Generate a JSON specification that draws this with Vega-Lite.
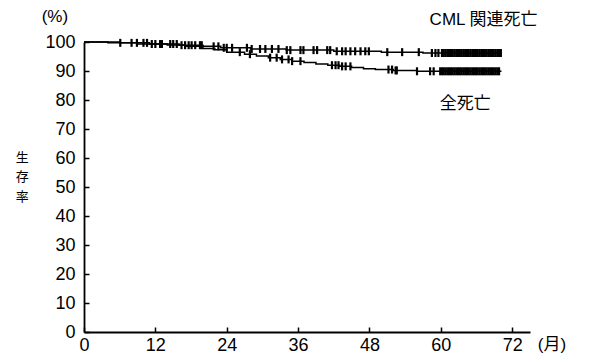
{
  "$schema": "https://vega.github.io/schema/vega-lite/v6.json",
  "width": 446,
  "height": 290,
  "autosize": {"type": "none"},
  "padding": {"left": 84, "top": 42, "right": 76, "bottom": 30},
  "background": "white",
  "config": {"view": {"stroke": null}, "font": "Liberation Sans"},
  "datasets": {
    "curve": [
      {"series": "cml", "month": 0, "surv": 100},
      {"series": "cml", "month": 6, "surv": 99.7},
      {"series": "cml", "month": 11, "surv": 99.3},
      {"series": "cml", "month": 16, "surv": 98.9},
      {"series": "cml", "month": 20, "surv": 98.5},
      {"series": "cml", "month": 23, "surv": 98},
      {"series": "cml", "month": 28, "surv": 97.6},
      {"series": "cml", "month": 34, "surv": 97.2},
      {"series": "cml", "month": 42, "surv": 96.8},
      {"series": "cml", "month": 50, "surv": 96.5},
      {"series": "cml", "month": 57, "surv": 96.2},
      {"series": "cml", "month": 70.2, "surv": 96.2},
      {"series": "all", "month": 0, "surv": 100},
      {"series": "all", "month": 4, "surv": 99.7},
      {"series": "all", "month": 9, "surv": 99.3},
      {"series": "all", "month": 14, "surv": 99},
      {"series": "all", "month": 17, "surv": 98.5},
      {"series": "all", "month": 20, "surv": 97.8},
      {"series": "all", "month": 22, "surv": 97.3},
      {"series": "all", "month": 24, "surv": 96.5},
      {"series": "all", "month": 27, "surv": 95.8},
      {"series": "all", "month": 29, "surv": 95.2},
      {"series": "all", "month": 31, "surv": 94.6},
      {"series": "all", "month": 33, "surv": 94},
      {"series": "all", "month": 35, "surv": 93.4},
      {"series": "all", "month": 37, "surv": 92.9},
      {"series": "all", "month": 39, "surv": 92.4},
      {"series": "all", "month": 41, "surv": 92},
      {"series": "all", "month": 43, "surv": 91.6},
      {"series": "all", "month": 45, "surv": 91.2},
      {"series": "all", "month": 47, "surv": 90.8},
      {"series": "all", "month": 49, "surv": 90.5},
      {"series": "all", "month": 52, "surv": 90.2},
      {"series": "all", "month": 56, "surv": 89.9},
      {"series": "all", "month": 70.2, "surv": 89.9}
    ],
    "censor": [
      {"series": "cml", "month": 6.1, "surv": 99.7},
      {"series": "cml", "month": 8.0, "surv": 99.7},
      {"series": "cml", "month": 8.9, "surv": 99.7},
      {"series": "cml", "month": 10.0, "surv": 99.7},
      {"series": "cml", "month": 10.6, "surv": 99.7},
      {"series": "cml", "month": 11.4, "surv": 99.3},
      {"series": "cml", "month": 12.0, "surv": 99.3},
      {"series": "cml", "month": 12.8, "surv": 99.3},
      {"series": "cml", "month": 13.1, "surv": 99.3},
      {"series": "cml", "month": 14.5, "surv": 99.3},
      {"series": "cml", "month": 15.0, "surv": 99.3},
      {"series": "cml", "month": 15.6, "surv": 99.3},
      {"series": "cml", "month": 16.4, "surv": 98.9},
      {"series": "cml", "month": 17.0, "surv": 98.9},
      {"series": "cml", "month": 17.6, "surv": 98.9},
      {"series": "cml", "month": 18.1, "surv": 98.9},
      {"series": "cml", "month": 18.7, "surv": 98.9},
      {"series": "cml", "month": 19.5, "surv": 98.9},
      {"series": "cml", "month": 19.8, "surv": 98.9},
      {"series": "cml", "month": 21.8, "surv": 98.5},
      {"series": "cml", "month": 22.6, "surv": 98.5},
      {"series": "cml", "month": 23.5, "surv": 98},
      {"series": "cml", "month": 24.0, "surv": 98},
      {"series": "cml", "month": 24.9, "surv": 98},
      {"series": "cml", "month": 27.4, "surv": 98},
      {"series": "cml", "month": 28.2, "surv": 97.6},
      {"series": "cml", "month": 29.6, "surv": 97.6},
      {"series": "cml", "month": 30.5, "surv": 97.6},
      {"series": "cml", "month": 31.6, "surv": 97.6},
      {"series": "cml", "month": 32.7, "surv": 97.6},
      {"series": "cml", "month": 34.1, "surv": 97.2},
      {"series": "cml", "month": 34.7, "surv": 97.2},
      {"series": "cml", "month": 36.4, "surv": 97.2},
      {"series": "cml", "month": 36.9, "surv": 97.2},
      {"series": "cml", "month": 38.6, "surv": 97.2},
      {"series": "cml", "month": 39.2, "surv": 97.2},
      {"series": "cml", "month": 40.9, "surv": 97.2},
      {"series": "cml", "month": 41.4, "surv": 97.2},
      {"series": "cml", "month": 42.5, "surv": 96.8},
      {"series": "cml", "month": 43.4, "surv": 96.8},
      {"series": "cml", "month": 44.0, "surv": 96.8},
      {"series": "cml", "month": 44.8, "surv": 96.8},
      {"series": "cml", "month": 45.6, "surv": 96.8},
      {"series": "cml", "month": 46.5, "surv": 96.8},
      {"series": "cml", "month": 47.3, "surv": 96.8},
      {"series": "cml", "month": 47.9, "surv": 96.8},
      {"series": "cml", "month": 51.0, "surv": 96.5},
      {"series": "cml", "month": 53.5, "surv": 96.5},
      {"series": "cml", "month": 56.3, "surv": 96.5},
      {"series": "cml", "month": 58.5, "surv": 96.2},
      {"series": "cml", "month": 59.1, "surv": 96.2},
      {"series": "cml", "month": 59.6, "surv": 96.2},
      {"series": "cml", "month": 60.2, "surv": 96.2},
      {"series": "cml", "month": 60.5, "surv": 96.2},
      {"series": "cml", "month": 60.8, "surv": 96.2},
      {"series": "cml", "month": 61.1, "surv": 96.2},
      {"series": "cml", "month": 61.4, "surv": 96.2},
      {"series": "cml", "month": 61.7, "surv": 96.2},
      {"series": "cml", "month": 62.0, "surv": 96.2},
      {"series": "cml", "month": 62.3, "surv": 96.2},
      {"series": "cml", "month": 62.6, "surv": 96.2},
      {"series": "cml", "month": 62.9, "surv": 96.2},
      {"series": "cml", "month": 63.2, "surv": 96.2},
      {"series": "cml", "month": 63.5, "surv": 96.2},
      {"series": "cml", "month": 63.8, "surv": 96.2},
      {"series": "cml", "month": 64.1, "surv": 96.2},
      {"series": "cml", "month": 64.4, "surv": 96.2},
      {"series": "cml", "month": 64.7, "surv": 96.2},
      {"series": "cml", "month": 65.0, "surv": 96.2},
      {"series": "cml", "month": 65.3, "surv": 96.2},
      {"series": "cml", "month": 65.6, "surv": 96.2},
      {"series": "cml", "month": 65.9, "surv": 96.2},
      {"series": "cml", "month": 66.2, "surv": 96.2},
      {"series": "cml", "month": 66.5, "surv": 96.2},
      {"series": "cml", "month": 66.8, "surv": 96.2},
      {"series": "cml", "month": 67.1, "surv": 96.2},
      {"series": "cml", "month": 67.4, "surv": 96.2},
      {"series": "cml", "month": 67.7, "surv": 96.2},
      {"series": "cml", "month": 68.0, "surv": 96.2},
      {"series": "cml", "month": 68.3, "surv": 96.2},
      {"series": "cml", "month": 68.6, "surv": 96.2},
      {"series": "cml", "month": 68.9, "surv": 96.2},
      {"series": "cml", "month": 69.2, "surv": 96.2},
      {"series": "cml", "month": 69.5, "surv": 96.2},
      {"series": "cml", "month": 69.8, "surv": 96.2},
      {"series": "cml", "month": 70.1, "surv": 96.2},
      {"series": "all", "month": 26.2, "surv": 96.5},
      {"series": "all", "month": 27.9, "surv": 95.8},
      {"series": "all", "month": 31.3, "surv": 94.6},
      {"series": "all", "month": 32.4, "surv": 94.6},
      {"series": "all", "month": 33.3, "surv": 94},
      {"series": "all", "month": 34.4, "surv": 94},
      {"series": "all", "month": 35.0, "surv": 93.4},
      {"series": "all", "month": 36.4, "surv": 93.4},
      {"series": "all", "month": 41.7, "surv": 92},
      {"series": "all", "month": 42.3, "surv": 92},
      {"series": "all", "month": 42.8, "surv": 92},
      {"series": "all", "month": 43.4, "surv": 91.6},
      {"series": "all", "month": 44.0, "surv": 91.6},
      {"series": "all", "month": 44.8, "surv": 91.6},
      {"series": "all", "month": 51.2, "surv": 90.5},
      {"series": "all", "month": 51.8, "surv": 90.5},
      {"series": "all", "month": 52.4, "surv": 90.2},
      {"series": "all", "month": 52.6, "surv": 90.2},
      {"series": "all", "month": 56.0, "surv": 89.9},
      {"series": "all", "month": 58.2, "surv": 89.9},
      {"series": "all", "month": 58.8, "surv": 89.9},
      {"series": "all", "month": 59.9, "surv": 89.9},
      {"series": "all", "month": 60.2, "surv": 89.9},
      {"series": "all", "month": 60.5, "surv": 89.9},
      {"series": "all", "month": 60.8, "surv": 89.9},
      {"series": "all", "month": 61.1, "surv": 89.9},
      {"series": "all", "month": 61.4, "surv": 89.9},
      {"series": "all", "month": 61.7, "surv": 89.9},
      {"series": "all", "month": 62.0, "surv": 89.9},
      {"series": "all", "month": 62.3, "surv": 89.9},
      {"series": "all", "month": 62.6, "surv": 89.9},
      {"series": "all", "month": 62.9, "surv": 89.9},
      {"series": "all", "month": 63.2, "surv": 89.9},
      {"series": "all", "month": 63.5, "surv": 89.9},
      {"series": "all", "month": 63.8, "surv": 89.9},
      {"series": "all", "month": 64.1, "surv": 89.9},
      {"series": "all", "month": 64.4, "surv": 89.9},
      {"series": "all", "month": 64.7, "surv": 89.9},
      {"series": "all", "month": 65.0, "surv": 89.9},
      {"series": "all", "month": 65.3, "surv": 89.9},
      {"series": "all", "month": 65.6, "surv": 89.9},
      {"series": "all", "month": 65.9, "surv": 89.9},
      {"series": "all", "month": 66.2, "surv": 89.9},
      {"series": "all", "month": 66.5, "surv": 89.9},
      {"series": "all", "month": 66.8, "surv": 89.9},
      {"series": "all", "month": 67.1, "surv": 89.9},
      {"series": "all", "month": 67.4, "surv": 89.9},
      {"series": "all", "month": 67.7, "surv": 89.9},
      {"series": "all", "month": 68.0, "surv": 89.9},
      {"series": "all", "month": 68.3, "surv": 89.9},
      {"series": "all", "month": 68.6, "surv": 89.9},
      {"series": "all", "month": 68.9, "surv": 89.9},
      {"series": "all", "month": 69.2, "surv": 89.9},
      {"series": "all", "month": 69.5, "surv": 89.9},
      {"series": "all", "month": 69.8, "surv": 89.9}
    ],
    "labels": [
      {"label": "CML 関連死亡", "month": 67.2, "surv": 107.5},
      {"label": "全死亡", "month": 64.1, "surv": 78.5},
      {"label": "(%)", "month": -4.9, "surv": 108.5},
      {"label": "(月)", "month": 78.7, "surv": -4.6}
    ],
    "ytitle": [
      {"label": "生", "month": -10.4, "surv": 59.9},
      {"label": "存", "month": -10.4, "surv": 53.3},
      {"label": "率", "month": -10.4, "surv": 46.7}
    ]
  },
  "encoding": {
    "x": {
      "field": "month", "type": "quantitative",
      "scale": {"domain": [0, 75], "nice": false, "zero": false},
      "axis": {
        "title": null, "values": [0, 12, 24, 36, 48, 60, 72], "grid": false,
        "tickSize": -5, "tickColor": "black", "tickWidth": 1.5,
        "domainColor": "black", "domainWidth": 1.8,
        "labelFontSize": 18, "labelColor": "black", "labelFont": "Liberation Sans",
        "labelPadding": 9, "labelFlush": false
      }
    },
    "y": {
      "field": "surv", "type": "quantitative",
      "scale": {"domain": [0, 100], "nice": false},
      "axis": {
        "title": null,
        "values": [0, 10, 20, 30, 40, 50, 60, 70, 80, 90, 100], "grid": false,
        "tickSize": -5, "tickColor": "black", "tickWidth": 1.5,
        "domainColor": "black", "domainWidth": 1.8,
        "labelFontSize": 18, "labelColor": "black", "labelFont": "Liberation Sans",
        "labelPadding": 14, "labelFlush": false
      }
    }
  },
  "layer": [
    {
      "data": {"name": "curve"},
      "mark": {"type": "line", "interpolate": "step-after", "color": "black", "strokeWidth": 1.5},
      "encoding": {"detail": {"field": "series"}}
    },
    {
      "data": {"name": "censor"},
      "mark": {"type": "tick", "orient": "vertical", "color": "black", "size": 8, "thickness": 2.2, "opacity": 1}
    },
    {
      "data": {"name": "labels"},
      "mark": {"type": "text", "color": "black", "font": "Liberation Sans, Noto Sans CJK JP", "align": "center", "baseline": "middle", "fontSize": 17},
      "encoding": {"text": {"field": "label"}}
    },
    {
      "data": {"name": "ytitle"},
      "mark": {"type": "text", "color": "black", "font": "Noto Sans CJK JP", "align": "center", "baseline": "middle", "fontSize": 13},
      "encoding": {"text": {"field": "label"}}
    }
  ]
}
